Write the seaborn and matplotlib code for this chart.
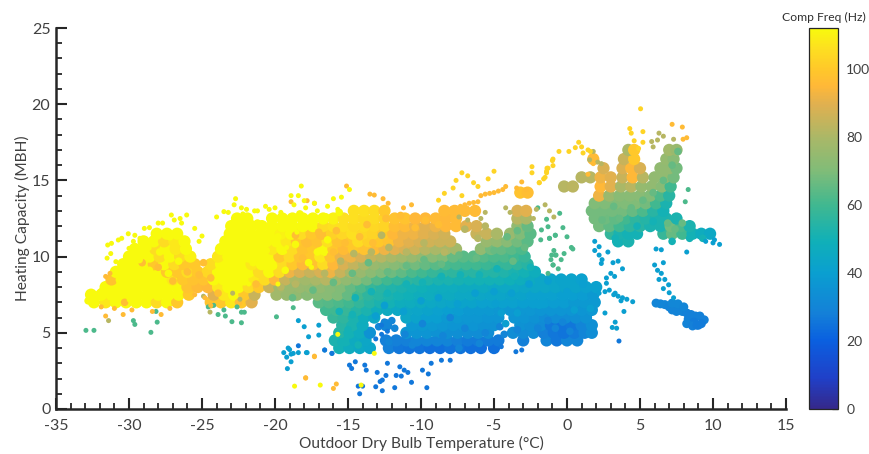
import matplotlib
matplotlib.use("Agg")
import matplotlib.pyplot as plt
import pandas as pd
import seaborn as sns
from matplotlib.cm import ScalarMappable
from matplotlib.colors import LinearSegmentedColormap, Normalize
from matplotlib.ticker import MultipleLocator

core_caps = [4.0, 4.5, 5.0, 5.5, 6.0, 6.5, 7.0, 7.5, 8.0, 8.5, 9.0, 9.5, 10.0, 10.5, 11.0, 11.5, 12.0, 12.5, 13.0, 14.2]
core_temps = [
    [-15.6,-14.9,-14.2,-13.5,-12.2,-11.5,-10.8,-10.1,-9.4,-8.7,-8,-7.3,-6.6,-5.9,-5.0],
    [-15.9,-15.2,-14.5,-13.8,-12.4,-11.7,-11,-10.3,-9.6,-8.9,-8.2,-7.5,-6.8,-6.1,-5.4,-4.7,-3,-1.4,-0.7,0,0.7],
    [-15.6,-14.9,-14.2,-13.5,-11.0,-10.3,-9.6,-8.9,-8.2,-7.5,-6.8,-6.1,-5.4,-3.7,-3,-2.3,-1.6,-0.9,-0.2,0.5,1.2,1.7],
    [-15.4,-14.7,-14,-12.4,-10.6,-9.9,-9.2,-8.5,-7.8,-7.1,-6.4,-5.7,-5,-3.2,-2.5,-1.8,-1.1,-0.4,0.3,1,1.7],
    [-16,-15.3,-14.6,-13.9,-13.2,-11,-10.3,-9.6,-8.9,-8.2,-7.5,-6.8,-6.1,-5.4,-4.7,-3.6,-2.9,-2.2,-1.5,-0.8,-0.1,0.6,1.3],
    [-16.5,-15.8,-15.1,-14.4,-13.7,-13,-12.3,-11.6,-10.9,-10.2,-9.5,-8.8,-8.1,-7.4,-6.7,-6,-5.3,-4.6,-3.9,-3.2,-2.5,-1.8,-1.1,-0.4,0.3,1,1.7],
    [-32.4,-31.6,-30.9,-30.2,-29.5,-28.8,-28.1,-27.4,-26.7,-24.4,-23.7,-23,-22.3,-21.6,-17,-16.3,-15.6,-14.9,-14.2,-13.5,-12.8,-12.1,-11.4,-10.7,-10,-9.3,-8.6,-7.9,-7.2,-6.5,-5.8,-5.1,-4.4,-3.7,-3,-2.3,-1.6,-0.9,-0.2,0.5,1.2,1.9],
    [-32.6,-31.9,-31.2,-30.5,-29.8,-29.4,-28.7,-28,-27.3,-26.6,-25.9,-24.2,-23.5,-22.8,-22.1,-21.4,-19.9,-19.2,-18.5,-17.8,-17.1,-16.4,-15.7,-15,-14.3,-13.6,-12.9,-12.2,-11.5,-10.8,-10.1,-9.4,-8.7,-8,-7.3,-6.6,-5.9,-5.2,-4.5,-3.8,-3.1,-2.4,-1.7,-1,-0.3,0.4,1.1,1.8],
    [-31.6,-30.9,-30.2,-29.5,-28.8,-28.1,-27.4,-26.7,-26,-25.3,-24.6,-23.9,-23.2,-22.5,-21.8,-21.1,-20.4,-19.7,-19,-18.3,-17.6,-16.9,-16.2,-15.5,-14.8,-14.1,-13.4,-12.7,-12,-11.3,-10.6,-9.9,-9.2,-8.5,-7.8,-7.1,-6.4,-5.7,-5,-4.3,-3.6,-2.9,-2.2,-1.5,-0.8,-0.1,0.6,1.3,2],
    [-31.2,-30.5,-29.8,-29.1,-28.4,-27.7,-27,-26.3,-25.6,-24.9,-24.2,-23.5,-22.8,-22.1,-21.4,-20.7,-20,-19.3,-18.6,-17.9,-17.2,-16.5,-15.8,-15.1,-14.4,-13.7,-13,-12.3,-11.6,-10.9,-10.2,-9.5,-8.8,-8.1,-7.4,-6.7,-6,-5.3,-4.6,-3.9,-3.2,-2.5,-1.8,-1.1,-0.4,0.3,1],
    [-30.9,-30.2,-29.5,-28.8,-28.1,-27.4,-26.7,-26,-25.3,-24.6,-23.9,-23.2,-22.5,-21.8,-21.1,-20.4,-19.7,-19,-18.3,-17.6,-16.9,-16.2,-15.5,-14.8,-14.1,-13.4,-12.7,-12,-11.3,-10.6,-9.9,-9.2,-8.5,-7.8,-7.1,-6.4,-5.7,-5,-4.3,-3.6,-2.9,-2.2],
    [-30.4,-29.7,-29,-28.3,-27.6,-26.9,-26.2,-25.5,-24.4,-23.7,-23,-22.3,-21.6,-20.9,-20.2,-19.5,-18.8,-18.1,-17.4,-16.7,-16,-15.3,-14.6,-13.9,-13.2,-12.5,-11.8,-11.1,-10.4,-9.7,-9,-8.3,-7.6,-6.9,-6.2,-5.5,-4.8,-4.1,-3.4,-2.7],
    [-30,-29.3,-28.6,-27.9,-27.2,-26.5,-25.8,-23.9,-23.2,-22.5,-21.8,-21.1,-20.4,-19.7,-19,-18.3,-17.6,-16.9,-16.2,-15.5,-14.8,-14.1,-13.4,-12.7,-12,-11.3,-10.6,-9.9,-9.2,-8.5,-7.8,-7.1,-6.4,-5.7,-5,-4.3,-3.6,-2.9],
    [-29.6,-28.9,-28.2,-27.5,-26.8,-26.1,-23.7,-23,-22.3,-21.6,-20.9,-20.2,-19.5,-18.8,-18.1,-17.4,-16.7,-16,-15.3,-14.6,-13.9,-13.2,-12.5,-11.8,-11.1,-10.4,-9.7,-9,-8.3,-7.6,-5.9,-5.2,-4.5,-3.8,-3.1],
    [-29,-28.3,-27.6,-26.9,-26.2,-23.4,-22.7,-22,-21.3,-20.6,-19.9,-19.2,-18.5,-17.8,-17.1,-16.4,-15.7,-15,-14.3,-13.6,-12.9,-12.2,-11.5,-10.8,-10.1,-9.4,-8.7,-8,-5.5,-4.8,-4.1,-3.4,-2.7],
    [-28.1,-27.4,-26.7,-23.1,-22.4,-21.7,-21,-20.3,-19.6,-18.9,-18.2,-17.5,-16.8,-16.1,-15.4,-14.7,-14,-13.3,-12.6,-11.9,-11.2,-10.5,-9.8,-9.1,-8.4,-6.2,-5.5,-4.8,-3.9,-3.2,-2.5],
    [-23,-22.3,-21.6,-20.9,-20.2,-19.5,-18.8,-18.1,-17.4,-16.7,-16,-15.3,-14.6,-13.9,-13.2,-12.5,-11.8,-11.1,-10.4,-9.7,-9,-8.3,-7.6,-6.9,-6.2,-3.4,-2.7],
    [-22.6,-21.9,-20.2,-19.5,-18.8,-18.1,-17.4,-16.7,-16,-15.3,-14.6,-13.9,-13.2,-12.5,-11.8,-11.1,-10.4,-9.7,-9,-8.3,-7.6,-3.4,-2.8],
    [-14.6,-13.9,-13.2,-12.5,-8.4,-7.7,-7,-6.3,-3.4,-2.8],
    [-3.2,-2.7],
]
core_freqs = [
    [50,47,45,43,28,26,25,25,24,24,25,25,24,24,24],
    [52,50,46,44,28,28,28,30,30,30,30,28,27,27,27,27,28,30,26,30,30],
    [54,50,47,35,36,36,36,35,34,34,33,33,33,33,32,33,28,26,25,27,30,33],
    [55,52,47,30,38,38,38,37,36,36,36,35,35,35,34,32,26,25,26,30,34],
    [58,56,52,48,45,44,42,40,40,38,38,37,37,36,36,36,36,35,33,33,33,34,35],
    [60,60,58,54,52,48,46,45,44,43,42,41,40,39,38,38,38,37,37,37,37,36,36,36,36,36,37],
    [112,108,112,112,112,112,105,112,100,98,100,108,100,90,64,63,62,60,57,54,52,50,48,47,46,45,44,43,42,42,41,41,41,41,40,40,40,39,39,38,38,38],
    [112,112,112,112,112,112,112,112,112,112,100,90,108,112,100,85,78,76,74,72,72,72,70,66,60,56,54,52,50,49,48,47,46,46,45,45,44,43,43,42,42,41,41,41,40,40,39,38],
    [112,112,112,112,112,112,112,112,98,96,95,108,112,112,105,100,85,78,76,76,75,74,72,70,66,62,58,55,53,52,50,49,48,47,47,46,46,46,45,45,45,44,44,44,43,42,42,41,41],
    [98,112,112,112,112,112,108,100,98,98,112,112,112,112,108,105,95,85,80,78,80,82,78,74,72,68,63,60,58,56,55,53,52,52,51,50,50,50,50,49,48,46,44,43,42,42,41],
    [112,112,112,112,112,100,100,105,100,104,112,112,112,112,105,112,105,92,88,85,88,92,85,80,76,73,70,67,65,62,60,58,57,56,55,55,54,54,53,52,50,48],
    [112,112,112,100,112,105,100,100,105,112,112,112,108,112,112,105,100,95,98,105,95,88,84,80,76,74,72,70,68,66,64,62,61,60,60,59,58,58,56,55],
    [112,112,112,105,112,105,110,108,112,112,112,112,112,100,105,98,100,108,98,92,92,88,84,82,80,78,76,74,72,70,66,64,64,63,62,62,60,58],
    [112,112,105,112,108,112,112,112,112,112,112,108,112,105,98,100,112,100,96,100,98,96,92,90,88,86,82,80,80,78,74,68,66,64,62],
    [112,112,105,108,112,112,112,112,112,112,112,108,100,97,98,106,98,100,105,102,100,98,92,90,88,87,86,86,76,75,72,68,64],
    [112,112,112,112,112,112,112,112,110,112,105,100,97,102,104,106,104,103,100,95,92,92,90,88,87,85,85,80,76,70,64],
    [112,112,112,112,112,112,112,112,112,105,106,106,105,105,104,103,97,96,92,90,92,95,96,90,88,74,66],
    [112,112,112,112,112,112,112,112,110,106,106,105,105,103,98,98,95,95,96,95,96,82,80],
    [106,106,105,100,96,96,96,96,88,90],
    [98,97],
]

# warm-weather cluster on the right
right_caps = [11.0, 11.5, 12.0, 12.5, 13.0, 13.5, 14.0, 14.6, 15.2, 15.8, 16.4, 17.0]
right_temps = [
    [3.5,4.2],
    [3,3.6,4.2,4.8,6.6,7.2,7.9,8.6,9.2,9.8],
    [2.2,2.9,3.6,4.3,5,5.7,6.4,7.1,7.8,8.4],
    [1.9,2.6,3.3,4,4.7,5.4,6.1,6.8,7.5],
    [1.7,2.4,3.1,3.8,4.5,5.2,5.9,6.6],
    [1.9,2.6,3.3,4,4.7,5.4,6.1,6.8],
    [2.2,2.9,3.6,4.3,5,5.7,6.4,7],
    [-0.2,0.4,2.3,3,3.7,4.4,5.1,5.8,6.5,7.1],
    [1,1.6,2.3,3,3.8,4.5,5.2,6,6.7,7.3],
    [2.5,3.8,4.4,5,6.4,7,7.5],
    [1.8,3.9,4.6,6.8,7.3],
    [4.2,4.6,7,7.5],
]
right_freqs = [
    [50,52],
    [57,52,50,50,58,66,60,50,47,45],
    [68,65,60,56,55,52,52,68,62,52],
    [68,67,65,60,56,54,52,52,52],
    [68,68,68,68,66,62,55,50],
    [70,70,70,70,70,68,60,52],
    [92,76,72,72,72,70,62,55],
    [82,83,95,90,80,82,75,74,72,60],
    [82,82,92,90,85,95,82,74,74,68],
    [88,88,95,88,74,74,68],
    [96,85,100,75,72],
    [80,100,78,76],
]

# extra points inside the dense part, grouped by colour
fill_yellow_temps = [-32.8,-31.9,-31.1,-30.6,-29.9,-29.2,-28.6,-27.9,-27.3,-27.9,-28.7,-29.3,-26.6,-26.1,-27.2,-23.4,-22.7,-23.1,-22.2,-21.5,-22.5,-21.2,-20.6,-19.8,-19.1,-18.3,-17.6,-16.5,-18.6,-17.1,-16.4,-15.6,-20.1,-19.3,-17.7]
fill_yellow_caps = [7.1,7.7,7.4,8.2,7.2,8.3,9.1,7.8,8.9,10.3,10.6,9.8,9.7,10.9,11.3,9.1,8.3,10.7,11.2,9.6,12.3,12.2,10.4,11.3,12.1,12.8,12.2,12.6,10.8,10.3,11.1,12.9,9.4,9.1,9.6]
fill_orange_temps = [-30.3,-29.1,-28,-27,-26,-25.2,-24.4,-24.9,-23.9,-22.5,-21.3,-18.6,-17.8,-17,-16,-15.2,-18.1,-14.2,-13.7,-12.4,-11.4,-13.3,-10.4,-9.7,-8.8,-15.8]
fill_orange_caps = [7,9.6,9.3,8.4,9,8.8,8.6,9.6,7.6,7,8.2,11.4,10.9,11.6,10.3,10.9,9.9,11.3,12.1,12.5,12.7,10.9,11.9,12.4,12.1,11.7]
fill_tan_temps = [-16.6,-15.5,-14.6,-13.4,-12.2,-11,-9.8,-8.4,-7,-6.1,-5.6,-12.7,-18.6,-19.6]
fill_tan_caps = [8.9,9.7,10.2,10.3,10.6,10.3,10.9,10.3,11.8,11.2,12,11.4,8.2,8]
fill_green_temps = [-18.8,-17.4,-16,-14.7,-13.6,-12.3,-11,-9.8,-8.6,-7.4,-6.2,-5,-4.1,-3.4,-2.9,-3.7,2.4,3.2,4.4,5.2,5.9,6.6,7.2,7.6,3.6,7.4,7.9,6.9]
fill_green_caps = [7.3,7.8,8.3,8.9,9.6,9,9.4,9.8,9.5,10.1,9.9,10.4,11.3,11.7,10.6,9.7,12.4,13.3,13.2,13.7,14.2,15,16,16.9,12.5,11.8,12.2,12.2]
fill_teal_temps = [-15.6,-14.5,-13.4,-12.3,-11,-9.9,-8.6,-7.3,-6,-4.8,-3.6,-2.5,-15,-15.5,-14.3,-14.7,3.3,4.8,5.9,7.2,8.4,9.3]
fill_teal_caps = [6.4,7.3,7.7,7.6,8.2,8.3,8.7,8.8,8.8,9.2,8.7,9.3,5.2,4.4,4.2,6.2,11.2,12,12.3,11,11.2,11.2]
fill_cyan_temps = [-12.5,-11.2,-10,-8.8,-7.5,-6.3,-5,-3.8,-2.6,-1.3,0,1.1,1.6,-3.4,-1.9,0.5,-4.5,-4.2,-4.9,-13.1]
fill_cyan_caps = [6.8,6.4,7.1,7.3,6.9,7.6,7.7,7.6,8.2,8.4,7.7,8.2,6.6,6.3,6.8,6.5,6.3,5.6,6.9,6.1]
fill_blue_temps = [-11.8,-12.5,-11.1,-9.9,-8.5,-7,-5.6,-4.6,-4.3,-3.4,-2,-0.8,0.2,-12.9,-12.2,-10.6,-9,-7.4,-6,-12,-1.3,-0.3,-8]
fill_blue_caps = [5.3,5.7,4.9,5.6,4.8,5.3,5,5.4,4.9,5.2,5.3,5.3,5.1,5.4,4.4,4.2,4.5,4,4.3,5.8,5.8,5.7,6]

# single points, grouped by how they read on the colour bar
yellow_temps = [-31.46,-31.2,-30.73,-30.5,-30.05,-29.6,-28.95,-28.6,-28,-27.7,-27.1,-26.05,-26.5,-26.9,-26.4,-25.5,-25,-25.2,-31.5,-31.25,-30.9,-30,-29.7,-29.25,-22.7,-22.8,-23.5,-22.3,-21.95,-21.4,-20.65,-20,-18.9,-18.4,-18.2,-14.9,-16,-15.45,-18,-17.3,-18.66,-16.9,-15.7,-13.2,-14.1,-21.2,-20.4,-19.6,-18.7,-17.9,-17.1,-16.4,-15.7,-24,-23.2,-22.2,-19.2,-20.6,-21.8,-19.8,-17.5,-16.6,-18.5]
yellow_caps = [10.76,10.87,11.09,11.2,11.5,11.4,11.85,11.9,12.2,12.2,12.73,12.73,12.5,12.4,12.2,11.85,11.35,11,9.9,10.2,9.67,10.54,11,11.2,13.8,13.4,12.95,13.2,13.1,13,13.3,13.2,14,14,14.63,14.4,13.8,13.9,13.67,13.5,1.5,1.57,4.9,3.65,1.57,13,13.1,12.9,13.4,13.2,13,13.3,13.1,12.6,12.9,12.8,10.6,9.4,8.2,8.2,9.3,10.2,11.6]
gold_temps = [-7.6,-7.2,-6.8,-6.4,-6.1,-7.8,-8.4,-8.8,-5,-5.4,-7.2,-2.4,-2.4,-1.4,-1.9,-1,-1.3,-1.5,0.8,0.57,0.13,-0.55,-0.96,-0.96,-1.37,-1.4,-1.6,-1.9,1.1,1.44,1.6,1,5.04,4.3,4.4,5.2,5.2,4.6,4.9]
gold_caps = [15,15.5,15.3,14.85,14.6,14.5,14.15,13.7,15.6,15.1,14,15.9,15.5,15.5,14.85,16.3,15.8,15.2,17.5,17.15,16.9,16.9,16.4,15.97,15.8,15.6,15.1,14.85,16.8,17,16.9,17.2,19.7,18.4,18.1,18.2,17.5,17.6,17.1]
orange_temps = [-17.8,-17.3,-18.9,-15.1,-13.2,-12.6,-12.25,-10.65,-11.2,-13.5,-8.5,-8.2,-7.9,-7.6,-7.3,-7,-6.7,-6.4,-6.1,-5.9,-5.6,-5.3,-5,-4.7,-4.4,-4.2,-3.1,-2.8,-3.45,-17.3,-17.9,-15.8,-16,-17.9,-17.3,7.2,7.9,8.2,7.95,-31.9,-31.6,-31,-30.4,-29.8,-28.4,-27.8,-27.2,-25.5,-24.8,-24.4,-31.6,-31.3,1.44,1.8]
orange_caps = [13.67,13.5,13.6,14.63,14.04,13.8,13.5,13.4,13.2,14.1,13,13.1,13.15,13.2,13.3,13.4,13.5,13.55,13.6,14,14.1,14.15,14.2,14.3,14.4,14.6,14.9,14.4,14.5,3.43,2.05,1.64,1.35,2.03,3.47,18.68,18.5,17.8,17.7,6.7,6.1,6.6,6.2,6.5,6.4,6.2,6.6,7.5,7.3,6.8,8.7,8.9,15.4,16.1]
tan_temps = [6.3,6.6,6.2,5.8,7.3,5.9,1.8,1.55,2.1,2.35,-1.5,-1.2,-0.9,-4.2,-3.9,-5.6,-5.9,-6.8,-7.4,-2.1,-2.3,-31.4,-24.45,-24.9,-22.4,-22.9]
tan_caps = [18.1,17.9,17.65,17.55,17.7,17.2,16.9,16.35,16.2,16.1,13.4,13,12.6,13.2,12.9,12.9,12.5,12.4,12.6,13.1,12.5,5.8,6.36,7.4,7.2,7.6]
green_temps = [-32.95,-32.4,-28.5,-28.07,-29.7,-29.6,-28.15,-24.57,-23.9,-23.5,-23.4,-22.95,-22.3,-22.3,-22.1,-22.6,-24.2,-19.9,-18.75,-2,-1.4,-1.75,-1.3,-0.8,-1.2,-1.8,-0.5,-1.05,-0.75,-0.95,-0.6,-1.3,-0.28,0,-0.8,-1.2,0.3,-0.2,-0.9,-0.8,-1.1,-0.4,-0.96,0.4,8.1,8.3]
green_caps = [5.16,5.16,5.03,5.7,5.8,5.55,6.4,6.7,6.2,6.5,6.1,5.73,5.66,6.35,6.35,6.7,6.8,6.05,6.65,13.2,12.45,11.75,11.96,11.4,11.2,11.1,12.84,10.1,10.1,9.45,9.2,8.9,11.9,11.3,11.4,11.2,10.6,10.2,10.4,10.1,9.8,9.8,9.45,10.5,13.6,14.4]
teal_temps = [-19.4,-19.1,-18.75,-18.4,-19.2,-18.9,-19,-18.9,-19.15,-17.8,-18.4,-18,-17.7,-17,-17,-17.85,-16.6,-16.1,3.15,3.5,3.8,3,3.26,2.7,2.7,2.35,2.4,2.2,1.9,2.8,1.9,2.2,6,6.6,6.2,6.46,6.3,6.7,6.96,6.6,7,7.3,6.1,6.46,8.2,10.45,10,9.5,10.1,2.2,2.6,2.9,3.2,3.5,3.8,4.1,4.5,3.3,3.7,2.6,3.9,3.3,3.1,3.4]
teal_caps = [3.7,4,3.65,3.7,3.4,3.6,3.9,3.1,2.65,3.7,5.8,5.4,4.74,5.5,4.85,3.7,3.87,3.65,9.6,9.7,9.2,8.9,8.7,8.6,8.25,9.55,9.8,10.1,10.4,10.3,11,10.65,9.45,9.6,9.1,8.9,8.5,8.5,8.15,7.9,7.63,7.3,10.5,10.45,10.3,10.8,10.9,11,11.1,7.6,7.7,7.8,7.5,7.4,7.3,7.2,7.04,7.6,7.1,6.3,6.4,5.7,5.35,5.3]
blue_temps = [-18.4,-14.9,-14.75,-14.5,-13.85,-13.75,-13,-12.4,-12.8,-12.65,-13.1,-12.65,-11.8,-14.2,-14.3,-14,-10.65,-9.6,-9.9,-9.5,-11.15,-10.9,-11.7,-11.45,-12.3,-11.35,-9.3,-8.6,-8,-3.5,-3.1,-4.5,-16.6,-16.1,3.56,-12.7,-12.3,-13.1,-12.7]
blue_caps = [4.15,2.88,2.66,3.1,2.88,2.55,2.4,2.2,1.8,1.9,1.46,1.2,1.4,1,1.5,1.5,1.75,1.4,2.55,2.3,2.55,2.4,2.2,2.77,3,2.16,3,3.2,3.2,3.76,3.87,4.09,3.87,3.65,4.46,4.9,5.1,4.6,5.5]

# the narrow blob at the right, upper left to lower right
blob_temps = [6.1,6.4,6.7,7,7.2,7.5,7.7,7.9,8.2,8.5,8.8,9.1,9.4,7.2,7.6,8,8.3,8.7,9,8.2,8.6,8.9,9.2]
blob_caps = [6.95,6.9,6.85,6.7,6.5,6.4,6.5,6.4,6.3,6.2,6.1,6.1,5.85,6.95,6.9,6.7,5.9,5.7,5.5,5.6,5.45,5.5,5.6]
blob_freqs = [30,30,30,29,29,29,29,29,28,28,28,28,28,31,31,30,28,27,28,29,28,27,27]

# colour bar stops
cmap_stops = [0, 0.08, 0.18, 0.25, 0.357, 0.44, 0.536, 0.625, 0.71, 0.80, 0.85, 0.893, 0.95, 1]
cmap_colors = ["#35288a", "#2040c8", "#0a60e0", "#1480d8", "#0a9fd0", "#10b0b8", "#40b890",
               "#80bc78", "#a8b868", "#e0b050", "#ffb838", "#ffc82a", "#fde020", "#f8fa0d"]
cbar_ticks = [0, 20, 40, 60, 80, 100]

sns.set_style("white")
plt.rcParams["font.family"] = ["Lato", "DejaVu Sans"]
plt.rcParams["axes.unicode_minus"] = False
text_col = "#404040"
line_col = "#262626"

parula = LinearSegmentedColormap.from_list("parula_ish", list(zip(cmap_stops, cmap_colors)))
norm = Normalize(0, 112)


def rows_to_frame(caps, temps, freqs):
    recs = []
    for c, tt, ff in zip(caps, temps, freqs):
        for t, f in zip(tt, ff):
            recs.append((t, c, f))
    return pd.DataFrame(recs, columns=["temp", "cap", "freq"])


def group_to_frame(temps, caps, freq):
    n = min(len(temps), len(caps))
    return pd.DataFrame({"temp": temps[:n], "cap": caps[:n], "freq": [freq] * n})


core = pd.concat([rows_to_frame(core_caps, core_temps, core_freqs),
                  rows_to_frame(right_caps, right_temps, right_freqs)])
blob = pd.DataFrame({"temp": blob_temps, "cap": blob_caps, "freq": blob_freqs})
fill = pd.concat([
    group_to_frame(fill_blue_temps, fill_blue_caps, 30),
    group_to_frame(fill_cyan_temps, fill_cyan_caps, 40),
    group_to_frame(fill_teal_temps, fill_teal_caps, 50),
    group_to_frame(fill_green_temps, fill_green_caps, 66),
    group_to_frame(fill_tan_temps, fill_tan_caps, 82),
    group_to_frame(fill_orange_temps, fill_orange_caps, 97),
    group_to_frame(fill_yellow_temps, fill_yellow_caps, 112),
])
single = pd.concat([
    group_to_frame(green_temps, green_caps, 62),
    group_to_frame(tan_temps, tan_caps, 82),
    group_to_frame(teal_temps, teal_caps, 40),
    group_to_frame(blue_temps, blue_caps, 26),
    group_to_frame(orange_temps, orange_caps, 96),
    group_to_frame(gold_temps, gold_caps, 103),
    group_to_frame(yellow_temps, yellow_caps, 112),
])

fig = plt.figure(figsize=(8.7, 4.54), dpi=100)
ax = fig.add_axes([56 / 870, 45 / 454, 730 / 870, 381 / 454])

sns.scatterplot(data=core, x="temp", y="cap", hue="freq", palette=parula, hue_norm=norm,
                s=78, linewidth=0, legend=False, ax=ax)
sns.scatterplot(data=fill, x="temp", y="cap", hue="freq", palette=parula, hue_norm=norm,
                s=30, linewidth=0, legend=False, ax=ax)
sns.scatterplot(data=blob, x="temp", y="cap", hue="freq", palette=parula, hue_norm=norm,
                s=42, linewidth=0, legend=False, ax=ax)
sns.scatterplot(data=single, x="temp", y="cap", hue="freq", palette=parula, hue_norm=norm,
                s=13, linewidth=0, legend=False, ax=ax)

ax.set_xlim(-35, 15)
ax.set_ylim(0, 25)
ax.xaxis.set_major_locator(MultipleLocator(5))
ax.xaxis.set_minor_locator(MultipleLocator(1))
ax.yaxis.set_major_locator(MultipleLocator(5))
ax.yaxis.set_minor_locator(MultipleLocator(1))
ax.tick_params(which="major", direction="in", length=8, width=1.5, color=line_col,
               labelcolor=text_col, labelsize=11.5, pad=4,
               bottom=True, left=True)
ax.tick_params(axis="x", which="major", pad=7)
ax.tick_params(which="minor", direction="in", length=4, width=1.3, color=line_col,
               bottom=True, left=True)
ax.set_xlabel("Outdoor Dry Bulb Temperature (°C)", fontsize=11.2, color=text_col, labelpad=2)
ax.set_ylabel("Heating Capacity (MBH)", fontsize=11.2, color=text_col, labelpad=1)
for side in ["top", "right"]:
    ax.spines[side].set_visible(False)
for side in ["left", "bottom"]:
    ax.spines[side].set_linewidth(1.8)
    ax.spines[side].set_color(line_col)

cax = fig.add_axes([809 / 870, 45 / 454, 29 / 870, 381 / 454])
cbar = fig.colorbar(ScalarMappable(norm=norm, cmap=parula), cax=cax, ticks=cbar_ticks)
cbar.outline.set_edgecolor(line_col)
cbar.outline.set_linewidth(0.9)
cax.tick_params(direction="in", length=4, width=0.9, color=line_col,
                labelcolor=text_col, labelsize=10, pad=6)
cax.set_title("Comp Freq (Hz)", fontsize=8.7, color="#303030", pad=5)

fig.savefig("out.png", dpi=100)
